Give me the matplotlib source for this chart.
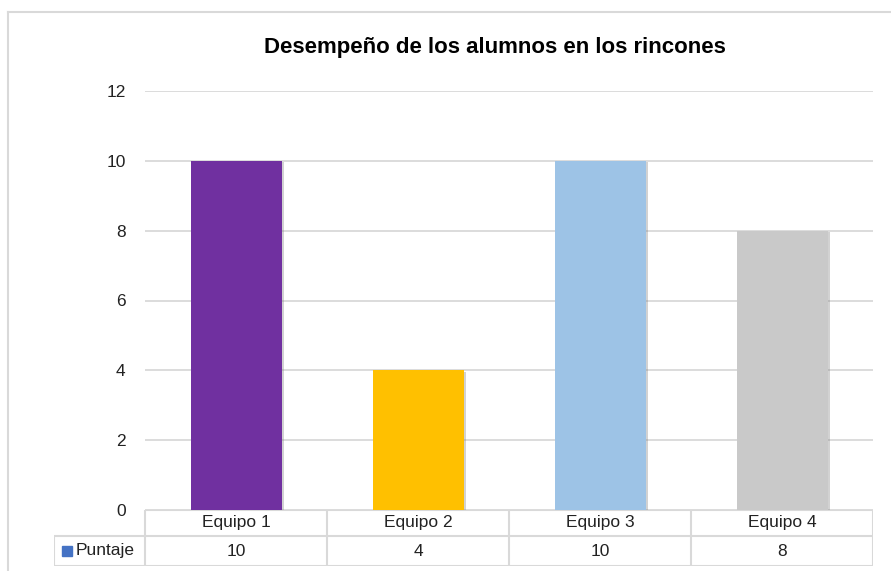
import matplotlib
matplotlib.use("Agg")
import matplotlib.pyplot as plt
import matplotlib.patheffects as pe
from matplotlib.lines import Line2D

# data
equipos = ["Equipo 1", "Equipo 2", "Equipo 3", "Equipo 4"]
puntaje = [10, 4, 10, 8]
serie = "Puntaje"
titulo = "Desempeño de los alumnos en los rincones"

colores = ["#7030A0", "#FFC000", "#9DC3E6", "#C9C9C9"]
gris = "#D9D9D9"

plt.rcParams["font.family"] = ["Liberation Sans", "DejaVu Sans"]

W, H = 891, 571
fig = plt.figure(figsize=(W / 100, H / 100), dpi=100)

# main plot area (pixel box -> figure fractions)
left, right, top, bottom = 145, 873, 91, 510
ax = fig.add_axes([left / W, 1 - bottom / H, (right - left) / W, (bottom - top) / H])

x = range(len(equipos))
bars = ax.bar(x, puntaje, width=0.5, color=colores, zorder=3)
for b in bars:
    b.set_path_effects([pe.SimplePatchShadow(offset=(1.5, -1), shadow_rgbFace="#808080", alpha=0.35),
                        pe.Normal()])

ax.set_xlim(-0.5, len(equipos) - 0.5)
ax.set_ylim(0, 12)
ax.set_yticks(range(0, 13, 2))
ax.yaxis.grid(True, color=gris, lw=1.3, zorder=0)
ax.set_xticks([])
ax.tick_params(axis="y", length=0, pad=14, labelsize=12.5, labelcolor="#222222")
for s in ax.spines.values():
    s.set_visible(False)

# data table under the plot
tleft, tbottom = 54, 566
tab = fig.add_axes([tleft / W, 1 - tbottom / H, (right - tleft) / W, (tbottom - bottom) / H])
tab.set_xlim(-1.0, len(equipos) - 0.5)
tab.set_ylim(0, 56)
tab.axis("off")
mid = 30
n = len(equipos)
lk = dict(color=gris, lw=1.5, solid_capstyle="butt")
tab.plot([-0.5, n - 0.5], [56, 56], **lk)
tab.plot([-1.0, n - 0.5], [mid, mid], **lk)
tab.plot([-1.0, n - 0.5], [0.5, 0.5], **lk)
for i in range(n + 1):
    tab.plot([i - 0.5, i - 0.5], [0, 56], **lk)
tab.plot([-1.0, -1.0], [0, mid], **lk)

for i, (e, v) in enumerate(zip(equipos, puntaje)):
    tab.text(i, (56 + mid) / 2, e, ha="center", va="center", fontsize=12.5, color="#222222")
    tab.text(i, mid / 2, str(v), ha="center", va="center", fontsize=12.5, color="#222222")
tab.plot([-0.93], [mid / 2], marker="s", ms=7, color="#4472C4", mec="#4472C4", clip_on=False)
tab.text(-0.88, mid / 2, serie, ha="left", va="center", fontsize=12.5, color="#222222")

# title
fig.text(495 / W, 1 - 47 / H, titulo, ha="center", va="center", fontsize=16, fontweight="bold")

# chart area border (top and left edges visible)
fig.add_artist(Line2D([8 / W, 8 / W], [0, 1 - 12 / H], color=gris, lw=1.5, transform=fig.transFigure))
fig.add_artist(Line2D([8 / W, 1], [1 - 12 / H, 1 - 12 / H], color=gris, lw=1.5, transform=fig.transFigure))

fig.savefig("out.png", dpi=100)
